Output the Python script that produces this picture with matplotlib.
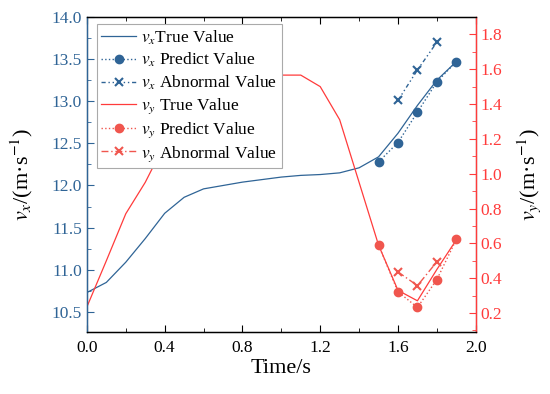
import matplotlib
matplotlib.use("Agg")
import matplotlib.pyplot as plt
from matplotlib.ticker import MultipleLocator

plt.rcParams['font.family'] = ['Liberation Serif', 'DejaVu Serif']
plt.rcParams['mathtext.fontset'] = 'stix'

# true curves, sampled every 0.1 s
t_true = [0.0, 0.1, 0.2, 0.3, 0.4, 0.5, 0.6, 0.7, 0.8, 0.9,
          1.0, 1.1, 1.2, 1.3, 1.4, 1.5, 1.6, 1.7, 1.8, 1.9]
vx_true = [10.73, 10.85, 11.09, 11.37, 11.67, 11.86, 11.96, 12.00, 12.04, 12.07,
           12.10, 12.12, 12.13, 12.15, 12.21, 12.34, 12.62, 12.95, 13.25, 13.47]
vy_true = [0.235, 0.50, 0.77, 0.95, 1.17, 1.42, 1.566, 1.566, 1.566, 1.566,
           1.566, 1.566, 1.50, 1.31, 0.95, 0.59, 0.33, 0.27, 0.45, 0.62]

# predictions
t_pred = [1.5, 1.6, 1.7, 1.8, 1.9]
vx_pred = [12.28, 12.51, 12.87, 13.23, 13.47]
vy_pred = [0.59, 0.322, 0.232, 0.392, 0.622]

# abnormal values
t_abn = [1.6, 1.7, 1.8]
vx_abn = [13.01, 13.37, 13.70]
vy_abn = [0.436, 0.357, 0.494]

blue = '#2f6496'
red = '#ff3b3b'
red_pt = '#f0564e'

fig = plt.figure(figsize=(5.5, 3.94), dpi=100)
ax = fig.add_axes([0.158, 0.157, 0.707, 0.8])
ax2 = ax.twinx()

l1, = ax.plot(t_true, vx_true, color=blue, lw=0.9, label='$v_x$True Value')
l2, = ax.plot(t_pred, vx_pred, color=blue, lw=1.0, ls=':', marker='o', ms=6,
              label='$v_x$ Predict Value')
l3, = ax.plot(t_abn, vx_abn, color=blue, lw=1.0, ls=(0, (3, 2, 1, 2, 1, 2)),
              marker='x', ms=6, mew=1.5, label='$v_x$ Abnormal Value')
l4, = ax2.plot(t_true, vy_true, color=red, lw=0.9, label='$v_y$ True Value')
l5, = ax2.plot(t_pred, vy_pred, color=red_pt, lw=1.0, ls=':', marker='o', ms=6,
               label='$v_y$ Predict Value')
l6, = ax2.plot(t_abn, vy_abn, color=red_pt, lw=1.0, ls=(0, (5, 2, 1, 2)),
               marker='x', ms=6, mew=1.5, label='$v_y$ Abnormal Value')

ax.set_xlim(0, 2.0)
ax.set_ylim(10.26, 14.0)
ax2.set_ylim(0.09, 1.9)

ax.xaxis.set_major_locator(MultipleLocator(0.4))
ax.xaxis.set_minor_locator(MultipleLocator(0.2))
ax.yaxis.set_major_locator(MultipleLocator(0.5))
ax.yaxis.set_minor_locator(MultipleLocator(0.25))
ax2.yaxis.set_major_locator(MultipleLocator(0.2))
ax2.yaxis.set_minor_locator(MultipleLocator(0.1))
ax.xaxis.set_major_formatter(lambda v, p: f'{v:.1f}')
ax.yaxis.set_major_formatter(lambda v, p: f'{v:.1f}')
ax2.yaxis.set_major_formatter(lambda v, p: f'{v:.1f}')

ax.tick_params(axis='x', which='both', direction='in', top=True, labelsize=12.5)
ax.tick_params(axis='x', which='major', length=5, pad=6)
ax.tick_params(axis='x', which='minor', length=3)
ax.tick_params(axis='y', which='both', direction='in', colors=blue, labelsize=12.5)
ax.tick_params(axis='y', which='major', length=5)
ax.tick_params(axis='y', which='minor', length=3)
ax2.tick_params(axis='y', which='both', direction='in', colors=red, labelsize=12.5)
ax2.tick_params(axis='y', which='major', length=5)
ax2.tick_params(axis='y', which='minor', length=3)

ax2.spines['left'].set_color(blue)
ax2.spines['right'].set_color(red)
for s in ax2.spines.values():
    s.set_linewidth(1.0)

ax.set_xlabel('Time/s', fontsize=16, labelpad=2)
ax.set_ylabel('$v_x$/(m·s$^{-1}$)', fontsize=16, labelpad=12)
ax2.set_ylabel('$v_y$/(m·s$^{-1}$)', fontsize=16, labelpad=9)

leg = ax2.legend(handles=[l1, l2, l3, l4, l5, l6], loc='upper left',
                 bbox_to_anchor=(0.026, 0.978), borderaxespad=0, fontsize=12.5,
                 fancybox=False, framealpha=1, edgecolor='#aaaaaa',
                 handlelength=2.0, handletextpad=0.3, labelspacing=0.25,
                 borderpad=0.25)
leg.get_frame().set_linewidth(0.8)

fig.savefig('out.png', dpi=100)
